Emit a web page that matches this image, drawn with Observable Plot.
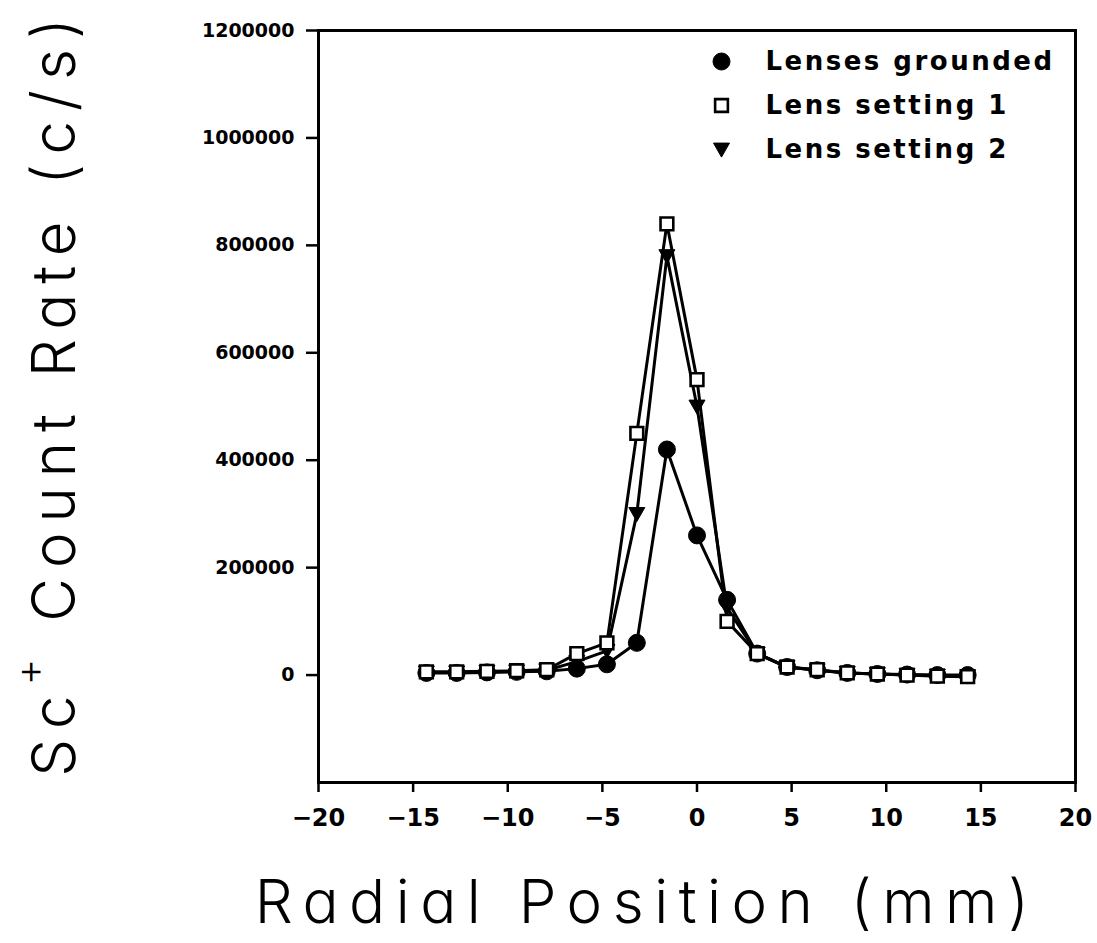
<!DOCTYPE html>
<html><head><meta charset="utf-8">
<script src="https://cdn.jsdelivr.net/npm/d3@7"></script>
<script src="https://cdn.jsdelivr.net/npm/@observablehq/plot@0.6"></script>
<style>
html,body{margin:0;padding:0;background:#fff;}
#chart svg{display:block;}
</style></head><body>
<div id="chart"></div>
<script>
// Radial positions (mm) of the measurement points
const radialPosition = [-14.3, -12.7, -11.1, -9.53, -7.94, -6.35, -4.76, -3.18, -1.59, 0, 1.59, 3.18, 4.76, 6.35, 7.94, 9.53, 11.1, 12.7, 14.3];
// Sc+ count rate (c/s) for each series
const lensesGrounded = [4000, 4000, 5000, 6000, 7000, 12000, 20000, 60000, 420000, 260000, 140000, 40000, 15000, 9000, 4000, 2000, 1000, 0, 0];
const lensSetting1   = [6000, 6000, 7000, 8000, 10000, 40000, 60000, 450000, 840000, 550000, 100000, 40000, 15000, 10000, 4000, 2000, 0, -2000, -3000];
const lensSetting2   = [5000, 5000, 6000, 7000, 9000, 25000, 45000, 300000, 780000, 500000, 125000, 40000, 15000, 9000, 4000, 2000, 0, -1000, -2000];
const seriesNames = ["Lenses grounded", "Lens setting 1", "Lens setting 2"];
const xTicks = [-20, -15, -10, -5, 0, 5, 10, 15, 20];
const yTicks = [0, 200000, 400000, 600000, 800000, 1000000, 1200000];
const xDomain = [-20, 20];
const yDomain = [-200000, 1200000];
const xLabel = "Radial Position (mm)";
const yLabel = "Sc+ Count Rate (c/s)";

const seriesValues = [lensesGrounded, lensSetting1, lensSetting2];
const rows = [];
seriesValues.forEach((vals, i) => vals.forEach((v, j) => rows.push({series: seriesNames[i], x: radialPosition[j], y: v})));
const bySeries = name => rows.filter(d => d.series === name);

const triangleDown = {
  draw(ctx, size) {
    const r = Math.sqrt(size / Math.PI);
    ctx.moveTo(-r, -0.8 * r);
    ctx.lineTo(r, -0.8 * r);
    ctx.lineTo(0, 0.95 * r);
    ctx.closePath();
  }
};

const symbols = [
  {symbol: "circle", fill: "black", stroke: "black", strokeWidth: 1, r: 8.5},
  {symbol: "square", fill: "white", stroke: "black", strokeWidth: 2.6, r: 7.2},
  {symbol: triangleDown, fill: "black", stroke: "black", strokeWidth: 1, r: 8}
];

const tickFont = "DejaVu Sans, Verdana, sans-serif";
const titleFont = "Inter, Lato, 'Noto Sans', sans-serif";

const legendMarks = [];
seriesNames.forEach((name, i) => {
  legendMarks.push(Plot.dot([name], {frameAnchor: "top-left", dx: 403, dy: 31 + 44 * i, ...symbols[i]}));
  legendMarks.push(Plot.text([name], {frameAnchor: "top-left", dx: 447, dy: 31 + 44 * i, textAnchor: "start", lineAnchor: "middle",
    fontSize: 26, fontWeight: "bold", fontFamily: tickFont, fill: "black"}));
});

const chart = Plot.plot({
  width: 1097,
  height: 943,
  marginLeft: 318,
  marginRight: 22,
  marginTop: 30,
  marginBottom: 161,
  style: {background: "white", color: "black"},
  x: {domain: xDomain},
  y: {domain: yDomain},
  marks: [
    Plot.axisX({ticks: xTicks, tickSize: 10, tickPadding: 16, fontSize: 24, fontWeight: "bold", fontFamily: tickFont, strokeWidth: 2.5, label: null}),
    Plot.axisY({ticks: yTicks, tickSize: 12, tickPadding: 12, tickFormat: d => String(d), fontSize: 19, fontWeight: "bold", fontFamily: tickFont, strokeWidth: 2.5, label: null}),
    Plot.frame({stroke: "black", strokeWidth: 3}),
    ...seriesNames.map(name => Plot.line(bySeries(name), {x: "x", y: "y", stroke: "black", strokeWidth: 3})),
    Plot.dot(bySeries(seriesNames[2]), {x: "x", y: "y", ...symbols[2]}),
    Plot.dot(bySeries(seriesNames[0]), {x: "x", y: "y", ...symbols[0]}),
    Plot.dot(bySeries(seriesNames[1]), {x: "x", y: "y", ...symbols[1]}),
    ...legendMarks,
    Plot.text([xLabel], {frameAnchor: "bottom", dx: -50, dy: 121, textAnchor: "middle", lineAnchor: "middle", fontSize: 60, fontWeight: 300, fontFamily: titleFont, fill: "black"}),
    Plot.text([yLabel], {frameAnchor: "left", dx: -263, dy: -14, rotate: -90, textAnchor: "middle", lineAnchor: "middle", fontSize: 60, fontWeight: 300, fontFamily: titleFont, fill: "black"})
  ]
});

document.getElementById("chart").appendChild(chart);

const svg = d3.select(chart);
svg.selectAll("text").each(function() {
  const t = d3.select(this);
  const s = t.text();
  if (seriesNames.includes(s)) t.attr("letter-spacing", "2.5px");
  if (s === xLabel) t.attr("letter-spacing", "10.5px").style("font-feature-settings", "'cv11'");
  if (s === yLabel) {
    t.attr("letter-spacing", "10px").style("font-feature-settings", "'cv11'");
    t.text(null);
    t.append("tspan").text("Sc");
    t.append("tspan").attr("dy", "-32").attr("font-size", "0.68em").text("+");
    t.append("tspan").attr("dy", "32").text(" Count Rate (c/s)");
  }
});
</script>
</body></html>
